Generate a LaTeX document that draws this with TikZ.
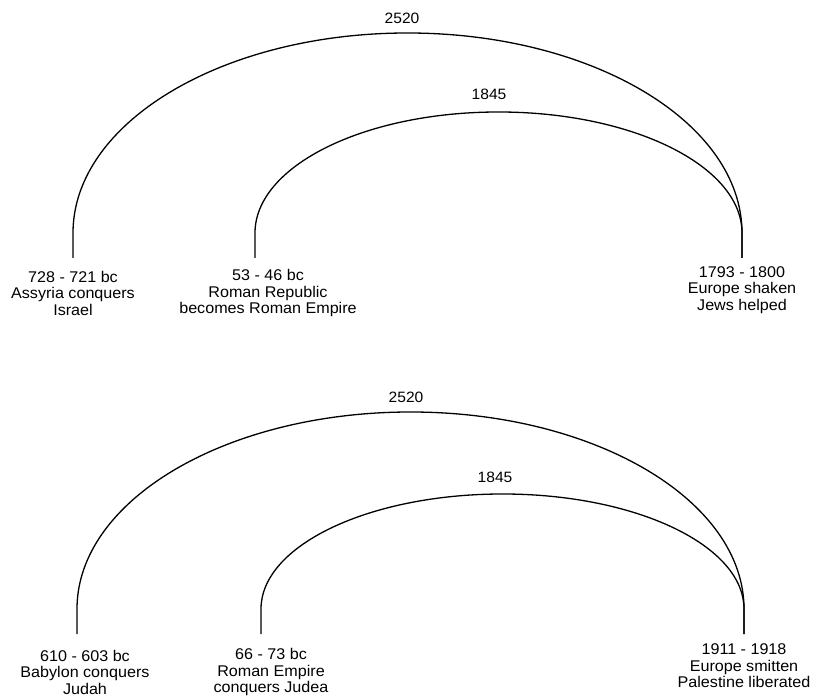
\documentclass[tikz,border=0pt]{standalone}
\usepackage{fontspec}
\setmainfont{Liberation Sans}[FakeStretch=1.04]
\begin{document}
\begin{tikzpicture}[x=1pt,y=1pt,
  arcline/.style={line width=1.3pt, black},
  evt/.style={align=center, inner sep=0pt, font=\fontsize{15.5}{16.5}\selectfont},
  span/.style={inner sep=0pt, font=\fontsize{15}{16}\selectfont}]
\useasboundingbox (0,0) rectangle (816,696);
% ---------- top diagram ----------
\coordinate (ta) at (73,438);
\coordinate (tb) at (255,438);
\coordinate (tc) at (742,438);
\node[span] (t2520) at (402,678) {2520};
\node[span] (t1845) at (489,602) {1845};
\node[evt] (tal) at (73,403) {728 - 721 bc\\Assyria conquers\\Israel};
\node[evt] (tbl) at (268,403) {53 - 46 bc\\Roman Republic\\becomes Roman Empire};
\node[evt] (tcl) at (742,406) {1793 - 1800\\Europe shaken\\Jews helped};
\draw[arcline] (ta) -- ++(0,25) arc[start angle=180, end angle=0, x radius=334.5pt, y radius=200pt] -- (tc);
\draw[arcline] (tb) -- ++(0,25) arc[start angle=180, end angle=0, x radius=243.5pt, y radius=121pt] -- (tc);
% ---------- bottom diagram ----------
\coordinate (ba) at (77,62);
\coordinate (bb) at (261,62);
\coordinate (bc) at (744,62);
\node[span] (b2520) at (406,299) {2520};
\node[span] (b1845) at (495,219) {1845};
\node[evt] (bal) at (85,24) {610 - 603 bc\\Babylon conquers\\Judah};
\node[evt] (bbl) at (271,24) {66 - 73 bc\\Roman Empire\\conquers Judea};
\node[evt] (bcl) at (744,30) {1911 - 1918\\Europe smitten\\Palestine liberated};
\draw[arcline] (ba) -- ++(0,25) arc[start angle=180, end angle=0, x radius=333.5pt, y radius=197pt] -- (bc);
\draw[arcline] (bb) -- ++(0,25) arc[start angle=180, end angle=0, x radius=241.5pt, y radius=115pt] -- (bc);
\end{tikzpicture}
\end{document}
